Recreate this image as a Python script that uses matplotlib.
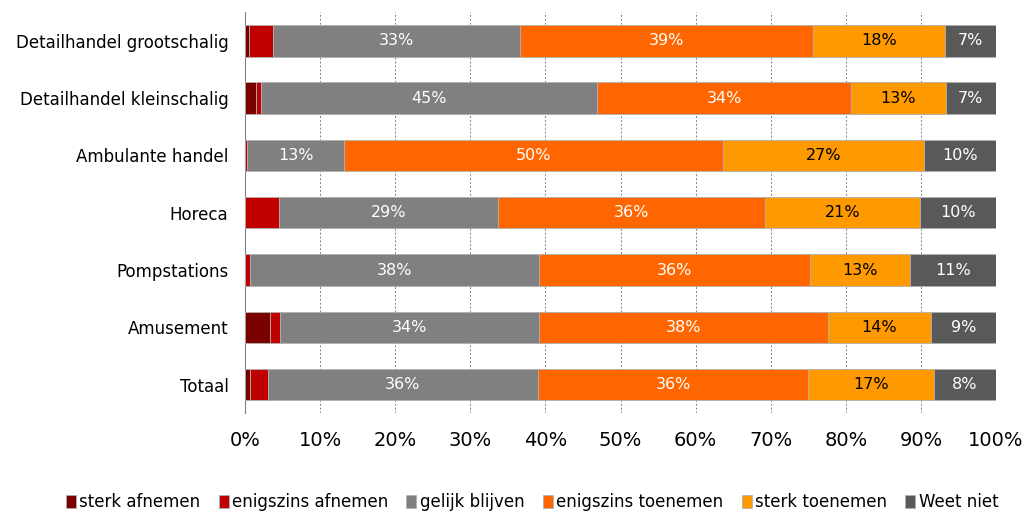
import matplotlib.pyplot as plt
import numpy as np

# categories (top to bottom) and shares per answer, in percent
categories = ["Detailhandel grootschalig", "Detailhandel kleinschalig", "Ambulante handel",
              "Horeca", "Pompstations", "Amusement", "Totaal"]
series = ["sterk afnemen", "enigszins afnemen", "gelijk blijven",
          "enigszins toenemen", "sterk toenemen", "Weet niet"]
sterk_afnemen = [0.45, 1.5, 0.0, 0.0, 0.0, 3.3, 0.7]
enigszins_afnemen = [3.2, 0.6, 0.3, 4.5, 0.7, 1.4, 2.3]
gelijk_blijven = [33.0, 44.8, 12.9, 29.2, 38.4, 34.4, 36.0]
enigszins_toenemen = [39.0, 33.8, 50.4, 35.5, 36.1, 38.5, 36.0]
sterk_toenemen = [17.6, 12.6, 26.8, 20.7, 13.4, 13.7, 16.7]
weet_niet = [6.7, 6.7, 9.6, 10.1, 11.4, 8.7, 8.3]

values = [sterk_afnemen, enigszins_afnemen, gelijk_blijven,
          enigszins_toenemen, sterk_toenemen, weet_niet]
colors = ["#7b0000", "#c00000", "#808080", "#ff6600", "#ff9900", "#595959"]
text_colors = ["white", "white", "white", "white", "black", "white"]

fig = plt.figure(figsize=(10.3, 5.12), dpi=100)
ax = fig.add_axes([0.238, 0.193, 0.729, 0.783])

y = np.arange(len(categories))
left = np.zeros(len(categories))
for vals, col, tcol, name in zip(values, colors, text_colors, series):
    vals = np.array(vals)
    ax.barh(y, vals, left=left, height=0.55, color=col, edgecolor="#b0b0b0",
            linewidth=0.6, label=name, zorder=3)
    for yi, l, v in zip(y, left, vals):
        if v >= 5:
            ax.text(l + v / 2, yi, "{:.0f}%".format(v), ha="center", va="center",
                    color=tcol, fontsize=11.5, zorder=4)
    left += vals

ax.set_xlim(0, 100)
ax.set_ylim(len(categories) - 0.5, -0.5)
ax.set_xticks(np.arange(0, 101, 10))
ax.set_xticklabels(["{}%".format(t) for t in range(0, 101, 10)], fontsize=14)
ax.set_yticks(y)
ax.set_yticklabels(categories, fontsize=12)
ax.tick_params(length=0)
ax.tick_params(axis="x", pad=13)
ax.tick_params(axis="y", pad=12)
ax.grid(axis="x", color="#808080", linestyle=(0, (2, 2)), linewidth=0.7, zorder=0)
for s in ["top", "right", "bottom"]:
    ax.spines[s].set_visible(False)
ax.spines["left"].set_color("#808080")

ax.legend(loc="center", bbox_to_anchor=(0.382, -0.222), ncol=6, frameon=False,
          fontsize=12, handlelength=0.6, handleheight=0.8, handletextpad=0.2,
          columnspacing=1.1)

fig.savefig("out.png", dpi=100)
